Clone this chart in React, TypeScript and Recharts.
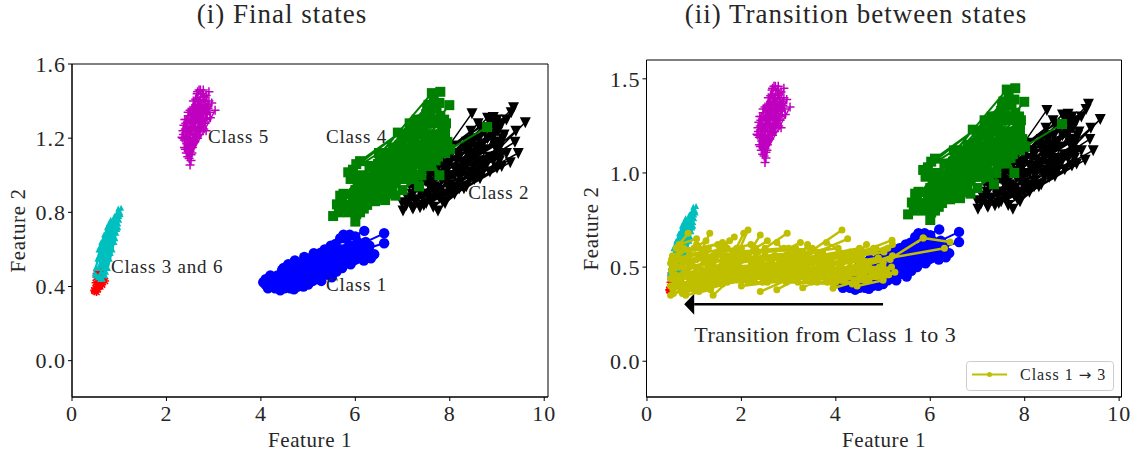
import { Legend, Line, LineChart, ReferenceArea, ReferenceDot, XAxis, YAxis } from "recharts";

const serif = "'Liberation Serif', serif";
const ink = "#262626";

// each track is one trajectory: x start, y start, x end, y end
const classFiveTracks = [
  [2.5, 1.055, 2.56, 1.2], [2.33, 1.205, 2.62, 1.38], [2.38, 1.15, 2.69, 1.46], [2.42, 1.12, 2.72, 1.42],
  [2.45, 1.1, 2.9, 1.45], [2.48, 1.09, 2.96, 1.39], [2.52, 1.11, 3.03, 1.35], [2.4, 1.25, 2.7, 1.4],
  [2.37, 1.27, 2.75, 1.38], [2.45, 1.14, 2.85, 1.33], [2.5, 1.13, 2.82, 1.28], [2.55, 1.15, 2.8, 1.35],
  [2.36, 1.22, 2.58, 1.36], [2.42, 1.3, 2.65, 1.44], [2.47, 1.18, 2.78, 1.41], [2.43, 1.2, 2.6, 1.33],
  [2.51, 1.22, 2.68, 1.3], [2.46, 1.34, 2.76, 1.44], [2.54, 1.26, 2.86, 1.37], [2.4, 1.14, 2.65, 1.3],
  [2.43, 1.17, 2.7, 1.33], [2.45, 1.2, 2.75, 1.3], [2.38, 1.19, 2.62, 1.3], [2.35, 1.24, 2.66, 1.36],
  [2.41, 1.23, 2.74, 1.34], [2.47, 1.13, 2.72, 1.26], [2.49, 1.16, 2.79, 1.25], [2.53, 1.18, 2.84, 1.24],
  [2.44, 1.26, 2.78, 1.3], [2.39, 1.3, 2.72, 1.38], [2.48, 1.28, 2.8, 1.42], [2.52, 1.3, 2.88, 1.38],
  [2.56, 1.22, 2.92, 1.34], [2.58, 1.28, 2.93, 1.31], [2.6, 1.2, 2.86, 1.3], [2.62, 1.24, 2.82, 1.38],
  [2.46, 1.32, 2.62, 1.41], [2.5, 1.35, 2.8, 1.4], [2.55, 1.36, 2.72, 1.46], [2.6, 1.34, 2.84, 1.43],
  [2.64, 1.32, 2.9, 1.4], [2.57, 1.4, 2.66, 1.45], [2.66, 1.38, 2.78, 1.46], [2.5, 1.18, 2.56, 1.28],
  [2.46, 1.16, 2.52, 1.25], [2.54, 1.12, 2.66, 1.2], [2.52, 1.08, 2.6, 1.18], [2.48, 1.15, 2.6, 1.22],
  [2.41, 1.28, 2.55, 1.33], [2.35, 1.2, 2.48, 1.24], [2.68, 1.26, 2.76, 1.35], [2.7, 1.22, 2.83, 1.33],
  [2.72, 1.3, 2.88, 1.36],
];

const classThreeTracks = [
  [0.5, 0.46, 0.78, 0.66], [0.55, 0.45, 0.85, 0.7], [0.6, 0.44, 0.88, 0.72], [0.65, 0.44, 0.92, 0.74],
  [0.7, 0.46, 0.96, 0.71], [0.6, 0.52, 0.9, 0.78], [0.66, 0.5, 1.04, 0.825], [0.72, 0.52, 1.0, 0.8],
  [0.56, 0.5, 0.8, 0.72], [0.74, 0.5, 0.88, 0.66], [0.62, 0.48, 0.98, 0.82], [0.68, 0.56, 1.0, 0.78],
  [0.58, 0.55, 0.76, 0.7], [0.76, 0.56, 0.9, 0.64], [0.64, 0.6, 0.88, 0.76], [0.48, 0.47, 0.6, 0.6],
  [0.52, 0.46, 0.66, 0.6], [0.58, 0.46, 0.72, 0.62], [0.62, 0.45, 0.74, 0.6], [0.68, 0.47, 0.8, 0.62],
  [0.72, 0.48, 0.82, 0.58], [0.76, 0.5, 0.86, 0.6], [0.8, 0.55, 0.92, 0.66], [0.54, 0.55, 0.68, 0.68],
  [0.6, 0.58, 0.74, 0.72], [0.66, 0.62, 0.82, 0.76], [0.7, 0.6, 0.86, 0.74], [0.74, 0.64, 0.9, 0.76],
  [0.78, 0.6, 0.94, 0.72], [0.82, 0.62, 0.98, 0.72], [0.86, 0.7, 1.0, 0.76], [0.8, 0.72, 0.96, 0.8],
  [0.88, 0.74, 1.02, 0.8], [0.92, 0.76, 1.03, 0.79], [0.7, 0.68, 0.78, 0.74], [0.76, 0.68, 0.88, 0.7],
  [0.94, 0.69, 0.98, 0.74], [0.56, 0.6, 0.62, 0.64], [0.5, 0.5, 0.56, 0.56], [0.64, 0.54, 0.7, 0.56],
];

const classSixTracks = [
  [0.48, 0.375, 0.52, 0.45], [0.52, 0.37, 0.6, 0.46], [0.55, 0.385, 0.66, 0.44], [0.5, 0.39, 0.58, 0.48],
  [0.56, 0.4, 0.7, 0.43], [0.47, 0.38, 0.62, 0.42], [0.6, 0.4, 0.52, 0.47], [0.54, 0.41, 0.64, 0.41],
  [0.5, 0.42, 0.57, 0.44],
];

const classOneTracks = [
  [4.05, 0.423, 5.4, 0.52], [4.1, 0.41, 5.6, 0.55], [4.1, 0.44, 6.19, 0.7], [4.2, 0.4, 6.61, 0.687],
  [4.25, 0.45, 6.61, 0.633], [4.41, 0.38, 6.4, 0.574], [4.5, 0.41, 6.33, 0.552], [4.3, 0.43, 5.9, 0.62],
  [4.35, 0.46, 5.7, 0.6], [4.4, 0.42, 5.85, 0.57], [4.5, 0.39, 5.5, 0.5], [4.6, 0.4, 6.0, 0.58],
  [4.45, 0.49, 5.3, 0.56], [4.7, 0.385, 5.6, 0.48], [4.75, 0.42, 6.1, 0.6], [4.55, 0.47, 5.45, 0.59],
  [4.8, 0.41, 5.75, 0.53], [4.9, 0.4, 5.9, 0.52], [4.65, 0.5, 5.55, 0.62], [5.0, 0.41, 6.2, 0.6],
  [4.85, 0.46, 6.05, 0.64], [5.05, 0.44, 5.85, 0.61], [5.1, 0.43, 6.0, 0.55], [5.15, 0.47, 6.15, 0.56],
  [5.2, 0.44, 5.65, 0.58], [4.6, 0.445, 5.2, 0.53], [4.3, 0.4, 4.9, 0.5], [4.95, 0.5, 5.5, 0.55],
  [4.2, 0.43, 4.7, 0.47], [4.15, 0.39, 4.85, 0.43], [5.3, 0.46, 6.3, 0.62], [5.35, 0.5, 6.25, 0.585],
  [4.2, 0.46, 4.9, 0.52], [4.3, 0.39, 5.0, 0.46], [4.35, 0.41, 5.1, 0.5], [4.42, 0.44, 5.2, 0.52],
  [4.48, 0.5, 5.25, 0.58], [4.52, 0.43, 5.3, 0.5], [4.58, 0.52, 5.35, 0.6], [4.62, 0.39, 5.4, 0.47],
  [4.68, 0.46, 5.42, 0.55], [4.72, 0.54, 5.48, 0.62], [4.78, 0.4, 5.5, 0.45], [4.82, 0.5, 5.58, 0.63],
  [4.88, 0.43, 5.62, 0.52], [4.92, 0.56, 5.68, 0.66], [4.98, 0.44, 5.72, 0.5], [5.02, 0.54, 5.78, 0.66],
  [5.08, 0.48, 5.82, 0.6], [5.12, 0.58, 5.88, 0.68], [5.18, 0.46, 5.95, 0.54], [5.22, 0.52, 6.0, 0.67],
  [5.28, 0.43, 5.92, 0.57], [5.32, 0.56, 6.08, 0.62], [5.38, 0.48, 6.12, 0.58], [5.42, 0.6, 5.75, 0.68],
  [5.48, 0.52, 6.22, 0.64], [5.52, 0.47, 6.18, 0.54], [5.58, 0.54, 6.28, 0.6],
];

const classTwoTracks = [
  [7.01, 0.81, 8.47, 1.335], [6.99, 0.855, 8.92, 1.314], [7.37, 0.828, 9.35, 1.367], [7.75, 0.81, 9.6, 1.286],
  [7.2, 0.83, 9.38, 1.18], [7.5, 0.85, 9.45, 1.12], [7.85, 0.86, 9.28, 1.07], [7.3, 0.87, 8.64, 0.984],
  [7.1, 0.88, 8.8, 1.31], [7.25, 0.93, 8.6, 1.28], [7.4, 0.9, 9.2, 1.3], [7.6, 0.88, 9.0, 1.24],
  [7.8, 0.92, 9.3, 1.34], [8.0, 0.92, 9.4, 1.24], [8.1, 0.9, 9.1, 1.05], [7.15, 0.95, 8.4, 1.1],
  [7.35, 0.98, 8.5, 1.2], [7.55, 0.95, 8.7, 1.24], [7.7, 1.0, 8.9, 1.2], [7.9, 0.98, 9.05, 1.15],
  [8.05, 1.0, 9.15, 1.22], [8.2, 0.96, 8.95, 1.1], [8.25, 1.02, 9.2, 1.12], [7.45, 1.02, 8.35, 1.18],
  [7.65, 1.05, 8.55, 1.15], [7.95, 1.05, 8.75, 1.08], [8.3, 0.93, 8.85, 1.02], [8.15, 1.08, 8.85, 1.26],
  [8.4, 1.0, 9.0, 1.04], [7.85, 1.12, 8.65, 1.26], [8.05, 1.16, 8.45, 1.24], [8.35, 1.06, 9.0, 1.18],
  [7.6, 0.96, 8.2, 1.02], [7.75, 1.08, 8.5, 1.05], [8.5, 1.1, 8.95, 1.28], [8.6, 1.06, 9.1, 1.28],
  [7.2, 0.9, 7.9, 1.04], [7.28, 0.86, 8.1, 1.0], [7.32, 0.95, 8.2, 1.1], [7.42, 0.88, 8.3, 1.04],
  [7.48, 0.97, 8.4, 1.14], [7.52, 0.9, 8.45, 1.02], [7.58, 1.0, 8.5, 1.12], [7.62, 0.86, 8.55, 1.0],
  [7.68, 0.94, 8.6, 1.08], [7.72, 1.03, 8.62, 1.2], [7.78, 0.88, 8.7, 1.02], [7.82, 0.98, 8.72, 1.14],
  [7.88, 0.9, 8.78, 1.06], [7.92, 1.02, 8.8, 1.2], [7.98, 0.95, 8.84, 1.1], [8.02, 1.08, 8.88, 1.22],
  [8.08, 0.94, 8.92, 1.08], [8.12, 1.03, 8.96, 1.16], [8.18, 1.12, 9.02, 1.24], [8.22, 0.99, 9.04, 1.1],
  [8.28, 1.06, 9.08, 1.18], [8.32, 1.15, 9.0, 1.3], [8.38, 1.0, 9.1, 1.12], [8.42, 1.08, 9.12, 1.2],
  [8.48, 1.18, 8.9, 1.3], [8.52, 0.98, 9.05, 1.08], [8.58, 1.12, 8.98, 1.26], [8.62, 1.04, 8.99, 1.14],
  [8.68, 1.16, 8.86, 1.3], [7.08, 0.84, 7.6, 0.93], [7.14, 0.87, 7.7, 0.9], [7.22, 0.82, 7.8, 0.9],
  [7.45, 0.84, 8.0, 0.9], [7.65, 0.83, 8.2, 0.93], [7.9, 0.85, 8.35, 0.94], [8.15, 0.93, 8.6, 1.0],
];

const classFourTracks = [
  [5.53, 0.78, 6.9, 1.23], [5.61, 0.843, 7.62, 1.443], [5.72, 0.82, 7.8, 1.45], [6.0, 0.75, 7.99, 1.378],
  [5.85, 0.8, 7.78, 1.39], [5.7, 0.86, 7.55, 1.38], [6.1, 0.8, 7.9, 1.26], [5.85, 1.016, 7.3, 1.3],
  [6.1, 1.076, 7.5, 1.33], [6.02, 0.79, 8.0, 1.14], [8.0, 1.14, 8.79, 1.26], [6.63, 0.866, 7.9, 1.22],
  [7.35, 0.94, 7.6, 1.1], [7.78, 1.0, 7.5, 1.15], [6.1, 0.86, 7.1, 1.2], [6.2, 0.9, 7.2, 1.25],
  [6.3, 0.95, 7.4, 1.3], [6.05, 0.98, 7.0, 1.18], [6.15, 1.0, 6.8, 1.15], [6.25, 0.84, 7.3, 1.12],
  [6.35, 0.88, 7.5, 1.2], [6.4, 1.03, 7.6, 1.3], [6.5, 0.92, 7.7, 1.22], [6.45, 0.98, 7.45, 1.25],
  [6.55, 1.08, 7.35, 1.22], [6.6, 0.94, 7.8, 1.18], [6.7, 0.9, 7.65, 1.15], [6.75, 1.0, 7.55, 1.28],
  [6.85, 0.96, 7.75, 1.28], [6.9, 1.1, 7.85, 1.25], [6.65, 1.12, 7.15, 1.28], [6.95, 0.98, 7.6, 1.05],
  [7.05, 1.02, 7.9, 1.12], [7.1, 0.98, 7.7, 1.08], [6.3, 1.05, 7.05, 1.1], [6.0, 0.92, 6.6, 1.02],
  [5.9, 0.82, 6.5, 0.98], [5.95, 0.88, 6.7, 1.05], [6.0, 0.85, 6.8, 1.02], [6.08, 0.94, 6.9, 1.08],
  [6.12, 0.88, 7.0, 1.06], [6.18, 0.82, 6.95, 1.0], [6.22, 0.96, 7.1, 1.14], [6.28, 0.89, 7.15, 1.05],
  [6.33, 0.99, 7.25, 1.18], [6.38, 0.92, 7.05, 1.12], [6.42, 0.86, 7.2, 1.02], [6.48, 1.06, 7.3, 1.26],
  [6.52, 1.0, 7.4, 1.14], [6.58, 0.88, 7.25, 1.08], [6.62, 1.04, 7.42, 1.24], [6.68, 0.96, 7.5, 1.1],
  [6.72, 1.08, 7.58, 1.34], [6.78, 0.93, 7.35, 1.06], [6.82, 1.05, 7.68, 1.3], [6.88, 1.0, 7.62, 1.18],
  [6.92, 1.16, 7.72, 1.36], [6.98, 1.08, 7.82, 1.2], [7.02, 1.2, 7.52, 1.36], [7.08, 1.12, 7.88, 1.3],
  [7.12, 1.06, 7.72, 1.14], [7.18, 1.22, 7.66, 1.4], [7.22, 1.0, 7.95, 1.18], [7.28, 1.16, 7.92, 1.28],
  [7.32, 1.08, 7.85, 1.16], [7.38, 1.22, 7.8, 1.32], [7.44, 1.05, 7.75, 1.1], [5.75, 0.9, 6.2, 0.95],
  [5.8, 0.84, 6.3, 0.9], [5.65, 0.8, 6.1, 0.83], [5.9, 0.98, 6.4, 0.96], [5.95, 1.03, 6.5, 1.12],
  [6.02, 1.06, 6.6, 1.08], [5.68, 0.89, 6.05, 0.9], [7.0, 0.92, 7.4, 1.0], [6.85, 0.89, 7.25, 0.98],
];

const transitionTracks = [
  [0.5, 0.35, 1.6, 0.5], [0.55, 0.38, 1.8, 0.55], [0.6, 0.42, 2.1, 0.56], [0.5, 0.44, 1.9, 0.52],
  [0.52, 0.48, 2.3, 0.58], [0.58, 0.52, 2.0, 0.6], [0.65, 0.55, 1.7, 0.6], [0.7, 0.58, 1.5, 0.62],
  [0.62, 0.6, 0.87, 0.68], [0.75, 0.36, 2.2, 0.48], [0.8, 0.4, 2.4, 0.5], [0.85, 0.38, 2.6, 0.52],
  [0.9, 0.44, 2.5, 0.56], [0.95, 0.42, 2.8, 0.54], [1.0, 0.38, 2.7, 0.47], [1.05, 0.48, 3.0, 0.57],
  [1.1, 0.37, 2.9, 0.5], [1.15, 0.42, 3.1, 0.52], [1.2, 0.52, 3.2, 0.58], [1.25, 0.46, 3.3, 0.54],
  [1.4, 0.35, 1.7, 0.42], [1.3, 0.4, 3.4, 0.5], [1.35, 0.5, 1.05, 0.62], [1.33, 0.68, 1.1, 0.56],
  [1.75, 0.64, 1.45, 0.55], [1.5, 0.44, 3.6, 0.54], [1.6, 0.41, 3.5, 0.48], [1.65, 0.52, 3.7, 0.58],
  [1.7, 0.47, 3.8, 0.52], [1.8, 0.43, 3.9, 0.5], [1.9, 0.56, 2.14, 0.697], [2.05, 0.68, 1.85, 0.58],
  [2.4, 0.67, 2.1, 0.55], [2.0, 0.4, 4.0, 0.46], [2.1, 0.44, 4.1, 0.52], [2.2, 0.53, 4.2, 0.56],
  [2.3, 0.48, 4.3, 0.5], [2.4, 0.37, 2.95, 0.43], [2.45, 0.42, 4.4, 0.48], [2.97, 0.68, 2.5, 0.6],
  [2.55, 0.5, 4.5, 0.54], [2.6, 0.45, 4.5, 0.44], [2.75, 0.38, 3.2, 0.44], [2.75, 0.63, 3.0, 0.56],
  [2.85, 0.5, 4.6, 0.58], [3.0, 0.45, 4.7, 0.5], [3.1, 0.55, 4.8, 0.58], [3.3, 0.39, 3.8, 0.46],
  [3.2, 0.48, 4.9, 0.55], [3.4, 0.62, 3.15, 0.52], [3.35, 0.44, 5.0, 0.5], [3.5, 0.52, 5.1, 0.6],
  [3.94, 0.388, 4.9, 0.46], [3.6, 0.43, 5.0, 0.44], [3.7, 0.5, 5.19, 0.643], [4.13, 0.697, 3.45, 0.58],
  [4.25, 0.65, 3.6, 0.58], [3.8, 0.63, 4.35, 0.55], [4.65, 0.62, 4.1, 0.5], [4.0, 0.42, 5.25, 0.473],
  [4.45, 0.4, 5.0, 0.43], [4.2, 0.48, 5.2, 0.56], [5.0, 0.52, 5.85, 0.654], [5.85, 0.654, 6.42, 0.633],
  [4.5, 0.52, 6.3, 0.6], [0.55, 0.5, 1.3, 0.55], [0.6, 0.46, 1.2, 0.47], [0.7, 0.5, 1.4, 0.52],
  [0.8, 0.54, 1.6, 0.56], [0.9, 0.5, 1.75, 0.48], [1.1, 0.44, 2.0, 0.46], [1.45, 0.49, 2.3, 0.51],
  [1.95, 0.5, 2.7, 0.47], [2.25, 0.44, 3.1, 0.46], [2.65, 0.54, 3.3, 0.58], [3.05, 0.5, 3.9, 0.46],
  [3.45, 0.47, 4.2, 0.44], [3.75, 0.54, 4.4, 0.58], [4.05, 0.46, 4.6, 0.46], [4.3, 0.53, 4.85, 0.6],
  [0.5, 0.4, 1.3, 0.5], [0.5, 0.52, 1.2, 0.58], [0.54, 0.56, 1.0, 0.6], [0.56, 0.36, 1.2, 0.4],
  [0.6, 0.5, 1.5, 0.58], [0.62, 0.4, 1.6, 0.46], [0.66, 0.44, 1.55, 0.44], [0.68, 0.62, 1.05, 0.65],
  [0.72, 0.38, 1.45, 0.42], [0.74, 0.46, 1.65, 0.5], [0.78, 0.6, 1.3, 0.6], [0.82, 0.35, 1.35, 0.38],
  [0.86, 0.47, 1.85, 0.53], [0.9, 0.57, 1.9, 0.6], [0.94, 0.4, 1.95, 0.44], [1.0, 0.46, 2.05, 0.48],
  [1.05, 0.54, 2.15, 0.57], [1.1, 0.6, 1.6, 0.63], [1.15, 0.48, 2.2, 0.5], [1.2, 0.43, 2.28, 0.44],
  [1.25, 0.56, 2.35, 0.58], [1.3, 0.46, 2.4, 0.46], [1.4, 0.53, 2.45, 0.55], [1.45, 0.42, 2.55, 0.42],
  [1.5, 0.58, 2.2, 0.62], [1.55, 0.47, 2.6, 0.5], [1.62, 0.55, 2.7, 0.56], [1.68, 0.43, 2.75, 0.45],
  [1.75, 0.5, 2.82, 0.52], [1.82, 0.58, 2.9, 0.6], [1.88, 0.44, 2.95, 0.44], [1.95, 0.53, 3.0, 0.55],
  [2.02, 0.47, 3.1, 0.48], [2.08, 0.57, 3.15, 0.6], [2.15, 0.42, 3.2, 0.42], [2.22, 0.5, 3.25, 0.52],
  [2.3, 0.55, 3.35, 0.56], [2.36, 0.45, 3.4, 0.45], [2.42, 0.52, 3.45, 0.53], [2.5, 0.58, 3.5, 0.6],
  [2.58, 0.43, 3.6, 0.42], [2.64, 0.48, 3.65, 0.5], [2.72, 0.56, 3.72, 0.58], [2.8, 0.45, 3.8, 0.44],
  [2.88, 0.53, 3.85, 0.55], [2.95, 0.42, 3.95, 0.41], [3.02, 0.48, 4.02, 0.48], [3.1, 0.57, 4.05, 0.6],
  [3.18, 0.44, 4.12, 0.43], [3.25, 0.52, 4.18, 0.53], [3.32, 0.47, 4.25, 0.46], [3.4, 0.55, 4.3, 0.58],
  [3.48, 0.42, 4.38, 0.42], [3.55, 0.49, 4.42, 0.5], [3.62, 0.56, 4.5, 0.6], [3.68, 0.45, 4.55, 0.46],
  [3.75, 0.52, 4.62, 0.53], [3.82, 0.42, 4.7, 0.43], [3.88, 0.48, 4.75, 0.48], [3.95, 0.56, 4.8, 0.6],
  [4.02, 0.44, 4.85, 0.45], [4.08, 0.5, 4.92, 0.5], [4.15, 0.43, 4.98, 0.47], [4.22, 0.55, 5.02, 0.58],
  [4.28, 0.46, 5.08, 0.48], [4.35, 0.41, 5.12, 0.46], [4.42, 0.5, 5.15, 0.54], [4.5, 0.47, 5.18, 0.5],
  [4.55, 0.56, 5.2, 0.62], [4.6, 0.43, 5.1, 0.46], [0.55, 0.46, 0.9, 0.44], [0.52, 0.54, 0.8, 0.48],
  [0.58, 0.43, 0.95, 0.52], [0.64, 0.56, 1.1, 0.5], [0.7, 0.42, 1.0, 0.42], [0.76, 0.53, 1.2, 0.46],
  [1.0, 0.6, 1.25, 0.64], [1.55, 0.6, 1.85, 0.66], [2.3, 0.6, 2.55, 0.64], [3.0, 0.6, 3.25, 0.63],
];

const arrowXs = [1.0, 5.0];
const arrowYs = [0.303, 0.303];

const classLabels = ["Class 5", "Class 3 and 6", "Class 1", "Class 4", "Class 2"];
const labelXs = [2.88, 0.826, 5.38, 5.38, 8.39];
const labelYs = [1.172, 0.472, 0.375, 1.172, 0.871];

const xTicks = [0, 2, 4, 6, 8, 10];
const leftYTicks = [0, 0.4, 0.8, 1.2, 1.6];
const rightYTicks = [0, 0.5, 1, 1.5];

const toRows = (tracks: number[][]) =>
  tracks.flatMap(([x1, y1, x2, y2]) => [
    { x: x1, y: y1 },
    { x: x2, y: y2 },
    { x: x2, y: null },
  ]);

const circle = (r: number, fill: string) => (p: any) =>
  p.cy == null ? <g key={p.key} /> : <circle key={p.key} cx={p.cx} cy={p.cy} r={r} fill={fill} />;

const square = (fill: string) => (p: any) =>
  p.cy == null ? <g key={p.key} /> : <rect key={p.key} x={p.cx - 5} y={p.cy - 5} width={10} height={10} fill={fill} />;

const triangleDown = (fill: string) => (p: any) =>
  p.cy == null ? (
    <g key={p.key} />
  ) : (
    <path key={p.key} d={`M${p.cx - 5.5} ${p.cy - 5}h11L${p.cx} ${p.cy + 6}z`} fill={fill} />
  );

const triangleUp = (fill: string) => (p: any) =>
  p.cy == null ? (
    <g key={p.key} />
  ) : (
    <path key={p.key} d={`M${p.cx - 3} ${p.cy + 3}h6L${p.cx} ${p.cy - 3}z`} fill={fill} />
  );

const plus = (stroke: string) => (p: any) =>
  p.cy == null ? (
    <g key={p.key} />
  ) : (
    <path key={p.key} d={`M${p.cx - 4.5} ${p.cy}h9M${p.cx} ${p.cy - 4.5}v9`} stroke={stroke} strokeWidth={1.5} />
  );

const star = (stroke: string) => (p: any) =>
  p.cy == null ? (
    <g key={p.key} />
  ) : (
    <path
      key={p.key}
      d={`M${p.cx - 4} ${p.cy}h8M${p.cx} ${p.cy - 4}v8M${p.cx - 3} ${p.cy - 3}l6 6M${p.cx - 3} ${p.cy + 3}l6 -6`}
      stroke={stroke}
      strokeWidth={1.5}
    />
  );

const arrowHead = (p: any) =>
  p.index === 0 ? (
    <path key={p.key} d={`M${p.cx - 10} ${p.cy}l10 -10.5v21z`} fill="#000" />
  ) : (
    <g key={p.key} />
  );

const labelShape = (text: string, size: number, spacing: number) => (p: any) =>
  (
    <text x={p.cx} y={p.cy} fontFamily={serif} fontSize={size} fill={ink} letterSpacing={spacing}>
      {text}
    </text>
  );

const track = (name: string, tracks: number[][], color: string, width: number, dot: any, zIndex: number) => (
  <Line
    key={name}
    name={name}
    data={toRows(tracks)}
    dataKey="y"
    type="linear"
    stroke={color}
    strokeWidth={width}
    dot={dot}
    activeDot={false}
    connectNulls={false}
    isAnimationActive={false}
    legendType="none"
    zIndex={zIndex}
  />
);

const classSeries = [
  track("Class 6", classSixTracks, "#ff0000", 1.5, star("#ff0000"), 400),
  track("Class 3", classThreeTracks, "#00bfbf", 2, triangleUp("#00bfbf"), 400),
  track("Class 1", classOneTracks, "#0000ff", 2, circle(5.2, "#0000ff"), 400),
  track("Class 2", classTwoTracks, "#000000", 1.5, triangleDown("#000000"), 400),
  track("Class 4", classFourTracks, "#008000", 2, square("#008000"), 610),
  track("Class 5", classFiveTracks, "#bf00bf", 1.5, plus("#bf00bf"), 610),
];

const axisTick = { fontFamily: serif, fontSize: 22, fill: ink, letterSpacing: 1 };
const axisLabel = { fontFamily: serif, fontSize: 21, fill: ink, letterSpacing: 0.6 };

const xAxis = (domain: number[]) => (
  <XAxis
    dataKey="x"
    type="number"
    domain={domain}
    ticks={xTicks}
    height={59}
    allowDataOverflow
    tickSize={4}
    tickMargin={4}
    tick={axisTick}
    stroke="#000"
    interval={0}
    label={{ value: "Feature 1", position: "insideBottom", offset: 9, style: axisLabel }}
  />
);

const yAxis = (domain: number[], ticks: number[], width: number, format: (v: number) => string) => (
  <YAxis
    type="number"
    domain={domain}
    ticks={ticks}
    width={width}
    allowDataOverflow
    tickSize={4}
    tick={axisTick}
    stroke="#000"
    interval={0}
    tickFormatter={format}
    label={{ value: "Feature 2", angle: -90, position: "insideLeft", offset: 18, style: { ...axisLabel, textAnchor: "middle" } }}
  />
);

const frame = (x: number[], y: number[]) => (
  <ReferenceArea x1={x[0]} x2={x[1]} y1={y[0]} y2={y[1]} fill="none" stroke="#000" strokeWidth={1} />
);

const title = (text: string, center: number) => (
  <div
    style={{
      position: "absolute",
      left: center - 250,
      width: 500,
      top: 0,
      lineHeight: "28px",
      textAlign: "center",
      fontFamily: serif,
      fontSize: 27,
      letterSpacing: 1,
      color: ink,
    }}
  >
    {text}
  </div>
);

const transitionLegend = () => (
  <svg width={148} height={30} style={{ display: "block" }}>
    <rect x={0.5} y={0.5} width={147} height={29} rx={3} fill="#fff" stroke="#ccc" />
    <line x1={6} x2={41} y1={13.5} y2={13.5} stroke="#bfbf00" strokeWidth={2} />
    <circle cx={23.5} cy={13.5} r={2.5} fill="#bfbf00" />
    <text x={54} y={19} fontFamily={serif} fontSize={16} fill={ink} letterSpacing={1}>
      Class 1 <tspan fontFamily="'DejaVu Sans', sans-serif" fontSize={15}>→</tspan> 3
    </text>
  </svg>
);

const leftXDomain = [0, 10.08];
const leftYDomain = [-0.196, 1.6];
const rightXDomain = [-0.01, 10.05];
const rightYDomain = [-0.19, 1.6];

export default function App() {
  return (
    <div style={{ position: "absolute", left: 0, top: 0, width: 1133, height: 456, background: "#fff", overflow: "hidden" }}>
      {title("(i) Final states", 282)}
      {title("(ii) Transition between states", 856)}
      <div style={{ position: "absolute", left: 0, top: 0 }}>
        <LineChart width={560} height={456} margin={{ top: 64, right: 12, bottom: 0, left: 0 }}>
          {xAxis(leftXDomain)}
          {yAxis(leftYDomain, leftYTicks, 72, (v) => v.toFixed(1))}
          {classSeries}
          {frame(leftXDomain, leftYDomain)}
          {classLabels.map((text, i) => (
            <ReferenceDot key={text} x={labelXs[i]} y={labelYs[i]} r={0} shape={labelShape(text, 19, 0.8)} zIndex={900} />
          ))}
        </LineChart>
      </div>
      <div style={{ position: "absolute", left: 573, top: 0 }}>
        <LineChart width={560} height={456} margin={{ top: 60, right: 11.5, bottom: 0, left: 0 }}>
          {xAxis(rightXDomain)}
          {yAxis(rightYDomain, rightYTicks, 73.5, (v) => v.toFixed(1))}
          {classSeries}
          {track("Class 1 → 3", transitionTracks, "#bfbf00", 2.5, circle(3.5, "#bfbf00"), 650)}
          <Line
            data={arrowXs.map((x, i) => ({ x, y: arrowYs[i] }))}
            dataKey="y"
            type="linear"
            stroke="#000"
            strokeWidth={2.5}
            dot={arrowHead}
            activeDot={false}
            isAnimationActive={false}
            legendType="none"
          />
          {frame(rightXDomain, rightYDomain)}
          <ReferenceDot x={1.0} y={0.1} r={0} shape={labelShape("Transition from Class 1 to 3", 22, 0.55)} />
          <Legend
            layout="horizontal"
            verticalAlign="middle"
            content={transitionLegend}
            wrapperStyle={{ left: 393, top: 361, width: 148, height: 30, bottom: "auto" }}
          />
        </LineChart>
      </div>
    </div>
  );
}
